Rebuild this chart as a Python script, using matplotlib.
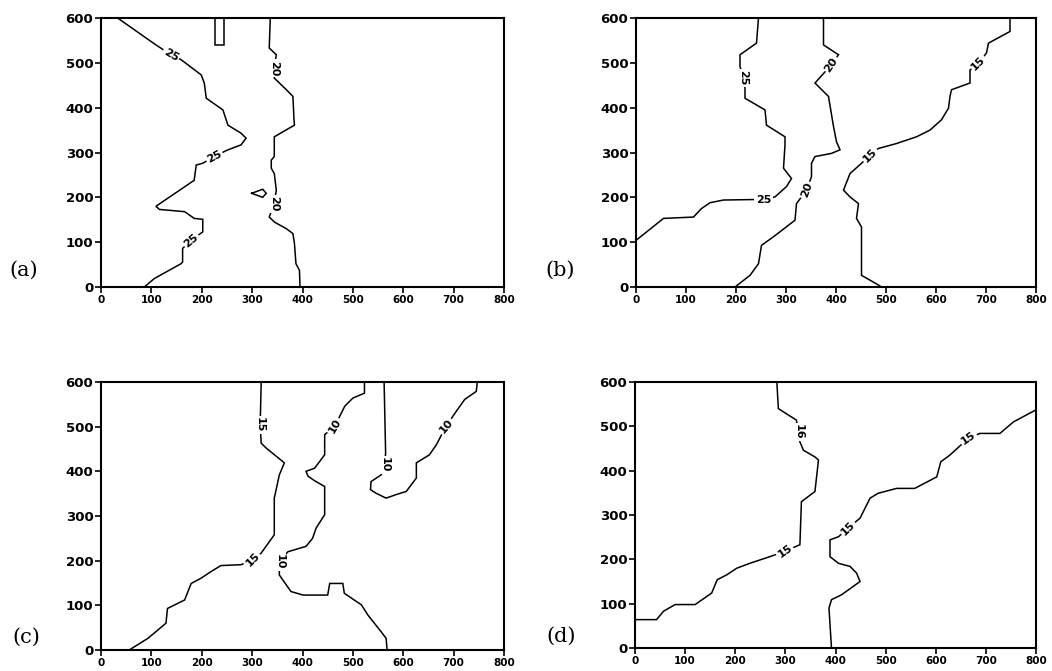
import matplotlib
matplotlib.use("Agg")
import matplotlib.pyplot as plt

# ---------------- data ----------------
x_ticks = [0, 100, 200, 300, 400, 500, 600, 700, 800]
y_ticks = [0, 100, 200, 300, 400, 500, 600]
panel_names = ["(a)", "(b)", "(c)", "(d)"]

# panel (a)
a_c25_x = [33, 109, 139, 159, 199, 205, 209, 242, 252, 278, 288, 278, 250, 225, 202, 189, 185, 109, 116, 166, 185, 202, 202, 179, 162, 162, 159, 106, 86]
a_c25_y = [600, 540, 518, 507, 473, 455, 421, 395, 361, 343, 332, 317, 305, 291, 276, 272, 238, 180, 173, 168, 153, 151, 123, 104, 86, 56, 52, 19, 0]
a_c20_x = [336, 334, 348, 344, 344, 368, 381, 383, 384, 344, 344, 338, 338, 344, 348, 344, 334, 344, 368, 381, 384, 387, 394, 395]
a_c20_y = [600, 533, 518, 488, 466, 440, 425, 376, 361, 335, 291, 283, 265, 253, 216, 186, 156, 145, 130, 119, 97, 52, 37, 0]
a_loop_x = [299, 321, 328, 321, 299]
a_loop_y = [209, 218, 209, 200, 209]
a_box_x = [226, 226, 245, 245]
a_box_y = [600, 540, 540, 600]

# panel (b)
b_c25_x = [0, 55, 115, 131, 148, 175, 231, 255, 278, 301, 311, 295, 298, 298, 261, 258, 218, 218, 215, 208, 208, 241, 245]
b_c25_y = [104, 153, 156, 175, 188, 194, 195, 195, 201, 224, 242, 265, 317, 335, 361, 395, 421, 443, 466, 492, 518, 544, 600]
b_c20_x = [375, 375, 405, 391, 358, 385, 395, 401, 408, 391, 358, 351, 351, 341, 321, 318, 275, 251, 245, 228, 198]
b_c20_y = [600, 540, 518, 496, 455, 425, 358, 324, 306, 298, 291, 276, 246, 216, 186, 149, 112, 93, 52, 26, 0]
b_c15_x = [748, 748, 705, 701, 685, 668, 668, 631, 628, 625, 611, 588, 561, 521, 485, 468, 451, 428, 415, 428, 445, 441, 451, 451, 481, 491]
b_c15_y = [600, 570, 544, 522, 499, 484, 455, 440, 425, 399, 373, 350, 335, 320, 309, 294, 276, 253, 216, 201, 186, 153, 134, 26, 7, 0]

# panel (c)
c_c15_x = [56, 93, 129, 132, 166, 179, 199, 219, 238, 278, 301, 318, 344, 344, 354, 364, 328, 318, 316, 318]
c_c15_y = [0, 26, 60, 93, 112, 149, 161, 176, 189, 191, 202, 217, 258, 340, 392, 419, 452, 463, 504, 600]
c_c10_x = [523, 523, 500, 484, 464, 444, 444, 424, 407, 411, 424, 444, 444, 427, 420, 407, 371, 354, 354, 377, 401, 450, 454, 480, 483, 517, 530, 556, 566, 568]
c_c10_y = [600, 575, 564, 546, 501, 482, 437, 407, 400, 389, 379, 366, 303, 273, 250, 232, 220, 198, 168, 131, 123, 123, 149, 149, 127, 101, 78, 41, 26, 0]
c_c10b_x = [562, 565, 563, 556, 536, 535, 546, 566, 586, 606, 626, 626, 652, 666, 685, 705, 722, 745, 747]
c_c10b_y = [600, 441, 415, 392, 377, 359, 351, 340, 348, 355, 385, 419, 437, 460, 501, 534, 561, 579, 600]

# panel (d)
d_c15a_x = [0, 43, 57, 80, 120, 153, 164, 183, 203, 229, 269, 299, 329, 332, 359, 366, 359, 336, 329, 326, 322, 286, 283]
d_c15a_y = [64, 64, 83, 98, 98, 124, 154, 165, 180, 191, 206, 218, 233, 330, 353, 424, 431, 446, 465, 488, 514, 540, 600]
d_c15b_x = [392, 387, 392, 412, 449, 442, 429, 406, 389, 389, 406, 425, 449, 469, 485, 522, 558, 602, 610, 628, 665, 688, 728, 755, 798]
d_c15b_y = [0, 90, 109, 120, 150, 169, 184, 191, 206, 244, 251, 270, 293, 338, 349, 360, 360, 386, 420, 435, 473, 484, 484, 510, 536]

# contour labels: (text, x, y, angle)
a_labels = [("25", 139, 518, -30), ("25", 225, 291, 28), ("25", 179, 104, 40),
            ("20", 344, 488, 270), ("20", 344, 186, 270)]
b_labels = [("25", 255, 195, 0), ("25", 215, 466, 270), ("20", 391, 496, 55),
            ("20", 341, 216, 70), ("15", 685, 499, 45), ("15", 468, 294, 45)]
c_labels = [("15", 301, 202, 45), ("15", 316, 504, 270), ("10", 464, 501, 60),
            ("10", 354, 198, 270), ("10", 563, 415, 270), ("10", 685, 501, 50)]
d_labels = [("15", 299, 218, 35), ("16", 326, 488, 270), ("15", 425, 270, 45),
            ("15", 665, 473, 35)]

panels = [
    ([(a_c25_x, a_c25_y), (a_c20_x, a_c20_y), (a_loop_x, a_loop_y), (a_box_x, a_box_y)], a_labels),
    ([(b_c25_x, b_c25_y), (b_c20_x, b_c20_y), (b_c15_x, b_c15_y)], b_labels),
    ([(c_c15_x, c_c15_y), (c_c10_x, c_c10_y), (c_c10b_x, c_c10b_y)], c_labels),
    ([(d_c15a_x, d_c15a_y), (d_c15b_x, d_c15b_y)], d_labels),
]

# ---------------- figure ----------------
fig = plt.figure(figsize=(10.52, 6.71), dpi=100)
W, H = 1052, 671
boxes = [(101, 18, 504, 287), (636, 18, 1036, 287),
         (101, 382, 504, 650), (635, 382, 1036, 648)]
letter_pos = [(24, 270), (560, 270), (26, 637), (561, 636)]

for (lines, labels), (l, t, r, b), name, (lx, ly) in zip(panels, boxes, panel_names, letter_pos):
    ax = fig.add_axes([l / W, 1 - b / H, (r - l) / W, (b - t) / H])
    for xs, ys in lines:
        ax.plot(xs, ys, color="black", lw=1.1, solid_joinstyle="miter")
    for txt, x, y, ang in labels:
        ax.text(x, y, txt, rotation=ang, ha="center", va="center",
                fontsize=8, fontweight="bold", family="DejaVu Sans",
                bbox=dict(facecolor="white", edgecolor="none", pad=1.0),
                rotation_mode="anchor", zorder=5)
    ax.set_xlim(0, 800)
    ax.set_ylim(0, 600)
    ax.set_xticks(x_ticks)
    ax.set_yticks(y_ticks)
    ax.set_xticklabels([str(v) for v in x_ticks], fontsize=7.5, fontweight="bold")
    ax.set_yticklabels([str(v) for v in y_ticks], fontsize=9.5, fontweight="bold")
    ax.tick_params(direction="out", length=4, width=1.2, pad=1.5)
    ax.tick_params(axis="x", top=False)
    ax.tick_params(axis="y", right=False)
    for sp in ax.spines.values():
        sp.set_linewidth(1.5)
    fig.text(lx / W, 1 - ly / H, name, fontsize=15, family="DejaVu Serif",
             ha="center", va="center")

fig.savefig("out.png", dpi=100)
